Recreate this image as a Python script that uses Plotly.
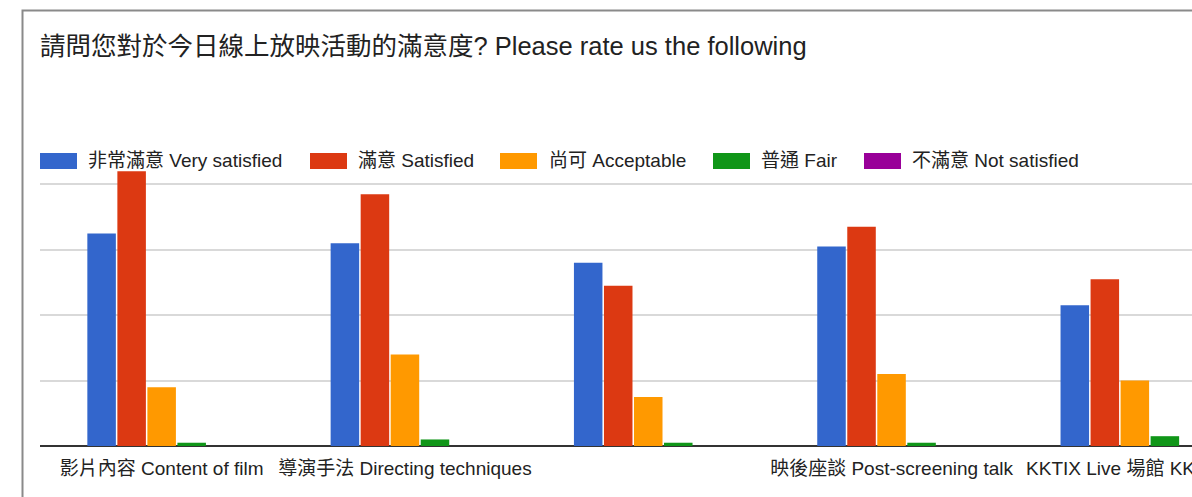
import plotly.graph_objects as go

# =============================================================================
# #### Data
# =============================================================================
categories = ["影片內容 Content of film", "導演手法 Directing techniques", "",
              "映後座談 Post-screening talk", "KKTIX Live 場館 KKTIX…"]

series_names = ["非常滿意 Very satisfied", "滿意 Satisfied", "尚可 Acceptable",
                "普通 Fair", "不滿意 Not satisfied"]

very_satisfied = [65, 62, 56, 61, 43]
satisfied      = [84, 77, 49, 67, 51]
acceptable     = [18, 28, 15, 22, 20]
fair           = [1, 2, 1, 1, 3]
not_satisfied  = [0, 0, 0, 0, 0]

y_ticks = [0, 20, 40, 60, 80]

colors = ["#3366cc", "#dc3912", "#ff9900", "#109618", "#990099"]

FONT = "Arial, Liberation Sans, Noto Sans CJK TC, sans-serif"

# plot area in pixels
L, T, B, W, H = 40, 168, 51, 1192, 497
PW = W - L
PH = H - T - B

def fx(px):
    return (px - L) / PW

def fy(py):
    return (H - B - py) / PH

# =============================================================================
# #### Figure
# =============================================================================
xs = list(range(len(categories)))
fig = go.Figure()
for name, vals, c in zip(series_names,
                         [very_satisfied, satisfied, acceptable, fair, not_satisfied],
                         colors):
    fig.add_trace(go.Bar(x=xs, y=vals, name=name, marker_color=c,
                         marker_line_width=0, showlegend=False))

# hand-made legend (wide swatches like the google chart)
legend_pos = [(40, 86), (310, 356), (500, 547), (713, 759), (864, 910)]
shapes = []
annotations = []
for (sx, tx), name, c in zip(legend_pos, series_names, colors):
    shapes.append(dict(type="rect", xref="paper", yref="paper",
                       x0=fx(sx), x1=fx(sx + 37), y0=fy(169), y1=fy(153),
                       fillcolor=c, line_width=0))
    annotations.append(dict(text=name, xref="paper", yref="paper",
                            x=fx(tx), y=fy(161), xanchor="left", yanchor="middle",
                            showarrow=False, font=dict(size=19, color="#222222", family=FONT)))

# title
annotations.append(dict(text="請問您對於今日線上放映活動的滿意度? Please rate us the following",
                        xref="paper", yref="paper", x=fx(38), y=fy(46),
                        xanchor="left", yanchor="middle", showarrow=False,
                        font=dict(size=25.5, color="#222222", family=FONT)))

# outer frame (cropped on the right and bottom)
shapes.append(dict(type="rect", xref="paper", yref="paper",
                   x0=fx(22.5), x1=fx(1195), y0=fy(500), y1=fy(10.5),
                   line=dict(color="#8a8a8a", width=2), fillcolor="rgba(0,0,0,0)"))

fig.update_layout(
    width=W, height=H, autosize=False,
    margin=dict(l=L, r=0, t=T, b=B, pad=0, autoexpand=False),
    barmode="group", bargap=0.383, bargroupgap=0.05,
    plot_bgcolor="white", paper_bgcolor="white",
    font=dict(family=FONT, color="#222222"),
    shapes=shapes, annotations=annotations,
    showlegend=False,
)
fig.update_xaxes(range=[-0.5, -0.5 + PW / 243.3], tickvals=xs, ticktext=categories,
                 tickangle=0, tickfont=dict(size=19, color="#222222"),
                 ticklabeloverflow="allow", ticklabelstandoff=9, automargin=False,
                 showgrid=False, zeroline=False, showline=False, ticks="")
fig.update_yaxes(range=[0, 85], tickvals=y_ticks, showticklabels=False, automargin=False,
                 showgrid=True, gridcolor="#d9d9d9", gridwidth=2,
                 zeroline=True, zerolinecolor="#333333", zerolinewidth=2,
                 showline=False)

# no page margin, and clip whatever runs past the right edge (the chart is cropped)
js = ("document.body.style.margin='0';"
      "document.documentElement.style.overflow='hidden';"
      "document.body.style.overflow='hidden';"
      "document.querySelectorAll('.plotly-graph-div').forEach(function(d){d.style.overflow='hidden';});")
fig.write_html("out.html", post_script=js, config={"displayModeBar": False})
